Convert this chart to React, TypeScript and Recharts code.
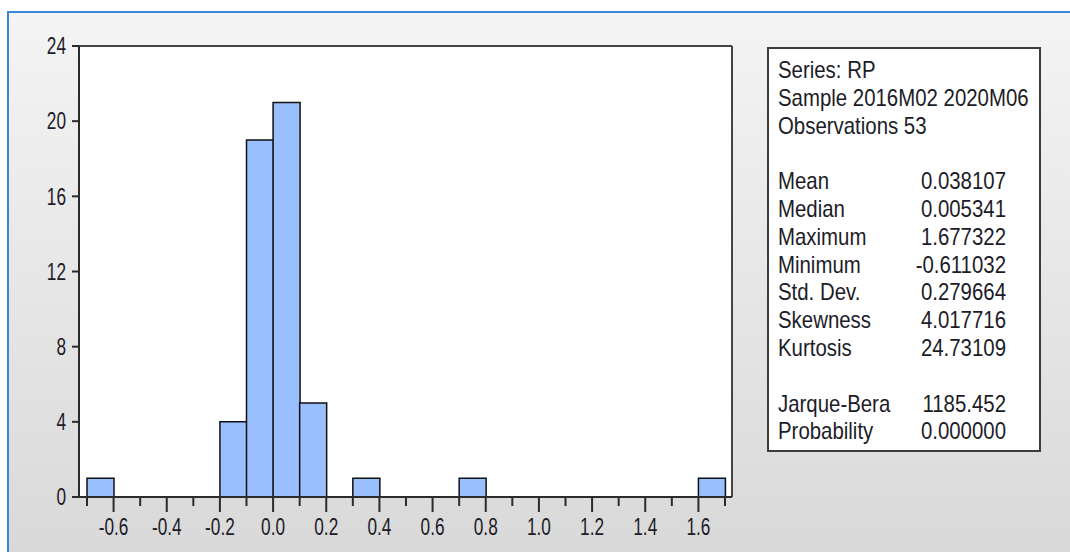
import { Bar, CartesianGrid, ComposedChart, XAxis, YAxis } from "recharts";

// Histogram of RP: bin centres (0.1 wide bins) and the count in each.
const BIN_CENTERS = [
  -0.65, -0.55, -0.45, -0.35, -0.25, -0.15, -0.05, 0.05, 0.15, 0.25, 0.35, 0.45,
  0.55, 0.65, 0.75, 0.85, 0.95, 1.05, 1.15, 1.25, 1.35, 1.45, 1.55, 1.65,
];
const BIN_COUNTS = [1, 0, 0, 0, 0, 4, 19, 21, 5, 0, 1, 0, 0, 0, 1, 0, 0, 0, 0, 0, 0, 0, 0, 1];

const X_TICKS = [
  -0.7, -0.6, -0.5, -0.4, -0.3, -0.2, -0.1, 0.0, 0.1, 0.2, 0.3, 0.4, 0.5, 0.6, 0.7,
  0.8, 0.9, 1.0, 1.1, 1.2, 1.3, 1.4, 1.5, 1.6, 1.7,
];
const Y_TICKS = [0, 4, 8, 12, 16, 20, 24];

const HEADER_LINES = ["Series: RP", "Sample 2016M02 2020M06", "Observations 53"];
const MOMENT_LABELS = ["Mean", "Median", "Maximum", "Minimum", "Std. Dev.", "Skewness", "Kurtosis"];
const MOMENT_VALUES = ["0.038107", "0.005341", "1.677322", "-0.611032", "0.279664", "4.017716", "24.73109"];
const TEST_LABELS = ["Jarque-Bera", "Probability"];
const TEST_VALUES = ["1185.452", "0.000000"];

const AXIS_INK = "#2b2b2b";
const FRAME_INK = "#444";
const BAR_FILL = "#99bffe";
const FONT = '"Liberation Sans", Arial, sans-serif';
const STATS_SCALE = 0.85;

const TICK_TEXT = { fontFamily: FONT, fontSize: 23, fill: "#1c1c28" };

const data = BIN_CENTERS.map((center, i) => ({ center, count: BIN_COUNTS[i] }));

// Bottom ticks every 0.1; labelled ones (multiples of 0.2) are longer.
const XTick = ({ x, y, payload }: any) => {
  const v = payload.value as number;
  const major = Math.round(v * 10) % 2 === 0;
  return (
    <g transform={`translate(${x},${y})`}>
      <line y1={0} y2={major ? 15 : 9} stroke={AXIS_INK} strokeWidth={2} />
      {major && (
        <text y={38} textAnchor="middle" transform="scale(0.75,1)" style={TICK_TEXT}>
          {v.toFixed(1)}
        </text>
      )}
    </g>
  );
};

const YTick = ({ x, y, payload }: any) => (
  <g transform={`translate(${x},${y})`}>
    <line x1={-7} x2={0} stroke={AXIS_INK} strokeWidth={2} />
    <text x={-13 / 0.75} dy="0.36em" textAnchor="end" transform="scale(0.75,1)" style={TICK_TEXT}>
      {payload.value}
    </text>
  </g>
);

// Frame lines on the plot edges only (top/bottom, left/right).
const frameRows = ({ offset }: any) => [offset.top, offset.top + offset.height];
const frameCols = ({ offset }: any) => [offset.left, offset.left + offset.width];

const StatRow = ({ label, value }: { label: string; value?: string }) => (
  <div style={{ display: "flex", justifyContent: "space-between", height: 27.8 }}>
    <span>{label}</span>
    {value !== undefined && <span>{value}</span>}
  </div>
);

const StatsBox = () => (
  <div
    style={{
      position: "absolute",
      left: 767,
      top: 47,
      width: 270,
      height: 401,
      border: "2px solid #3c3c3c",
      background: "#fff",
    }}
  >
    <div
      style={{
        position: "absolute",
        left: 9,
        top: 7,
        width: 228 / STATS_SCALE,
        fontFamily: FONT,
        fontSize: 24,
        lineHeight: "27.8px",
        color: "#1c1c28",
        transform: `scaleX(${STATS_SCALE})`,
        transformOrigin: "0 0",
        whiteSpace: "nowrap",
      }}
    >
      {HEADER_LINES.map((line) => (
        <StatRow key={line} label={line} />
      ))}
      <StatRow label="" />
      {MOMENT_LABELS.map((label, i) => (
        <StatRow key={label} label={label} value={MOMENT_VALUES[i]} />
      ))}
      <StatRow label="" />
      {TEST_LABELS.map((label, i) => (
        <StatRow key={label} label={label} value={TEST_VALUES[i]} />
      ))}
    </div>
  </div>
);

export default function App() {
  return (
    <div style={{ position: "absolute", left: 0, top: 0, width: 1070, height: 552, background: "#fff", overflow: "hidden" }}>
      <div
        style={{
          position: "absolute",
          left: 7,
          top: 11,
          right: 0,
          bottom: 0,
          borderTop: "2px solid #3a86d6",
          borderLeft: "2px solid #3a86d6",
          background: "linear-gradient(#f4f4f4, #d9d9d9)",
        }}
      />
      <div style={{ position: "absolute", left: 0, top: 0 }}>
        <ComposedChart
          width={750}
          height={552}
          data={data}
          margin={{ top: 46, right: 18, bottom: 0, left: 0 }}
          barCategoryGap={0}
          barGap={0}
        >
          <CartesianGrid
            fill="#fff"
            stroke={FRAME_INK}
            strokeWidth={2}
            horizontalCoordinatesGenerator={frameRows}
            verticalCoordinatesGenerator={frameCols}
          />
          <XAxis
            dataKey="center"
            type="number"
            domain={[-0.7, 1.7]}
            ticks={X_TICKS}
            interval={0}
            padding={{ left: 8, right: 7 }}
            height={55}
            tickSize={0}
            tickMargin={0}
            tickLine={false}
            tick={XTick}
            axisLine={{ stroke: AXIS_INK, strokeWidth: 2 }}
          />
          <YAxis
            type="number"
            domain={[0, 24]}
            ticks={Y_TICKS}
            interval={0}
            width={79}
            tickSize={0}
            tickMargin={0}
            tickLine={false}
            tick={YTick}
            axisLine={{ stroke: AXIS_INK, strokeWidth: 2 }}
          />
          <Bar
            dataKey="count"
            fill={BAR_FILL}
            stroke="#111"
            strokeWidth={1.5}
            isAnimationActive={false}
          />
        </ComposedChart>
      </div>
      <StatsBox />
    </div>
  );
}
